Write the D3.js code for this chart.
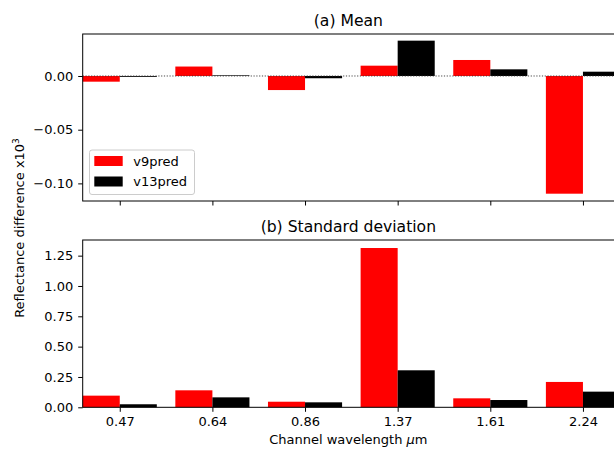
<!DOCTYPE html>
<html>
<head>
<meta charset="utf-8">
<script src="https://cdn.jsdelivr.net/npm/d3@7"></script>
<style>
  html, body { margin: 0; padding: 0; background: #fff; }
  svg { display: block; font-family: "DejaVu Sans", sans-serif; }
</style>
</head>
<body>
<svg id="chart" width="614" height="450"></svg>
<script>
// ---- data ----
const channels = ["0.47", "0.64", "0.86", "1.37", "1.61", "2.24"];
const seriesNames = ["v9pred", "v13pred"];
const seriesColors = ["#ff0000", "#000000"];
const meanV9 = [-0.0053, 0.0088, -0.0131, 0.0096, 0.0149, -0.1096];
const meanV13 = [-0.0008, 0.0006, -0.0021, 0.0329, 0.0062, 0.0040];
const stdV9 = [0.096, 0.140, 0.046, 1.313, 0.074, 0.209];
const stdV13 = [0.025, 0.082, 0.041, 0.305, 0.060, 0.129];
const meanTicks = [-0.10, -0.05, 0.00];
const stdTicks = [0.00, 0.25, 0.50, 0.75, 1.00, 1.25];

const svg = d3.select("#chart");
const fmt = v => d3.format(".2f")(v).replace("-", "\u2212");

const left = 82.7, right = 620;
const x = d3.scaleLinear().domain([-0.4, channels.length - 0.6]).range([left, right]);
const barW = 0.4;

function panel(opts) {
  const { top, bottom, domain, ticks, s1, s2, title, showXLabels, zeroLine } = opts;
  const y = d3.scaleLinear().domain(domain).range([bottom, top]);
  const g = svg.append("g");

  const rows = channels.map((c, i) => ({ i, a: s1[i], b: s2[i] }));
  [s1, s2].forEach((s, k) => {
    g.selectAll(null).data(s).enter().append("rect")
      .attr("x", (d, i) => x(i - barW + k * barW))
      .attr("width", x(barW) - x(0))
      .attr("y", d => y(Math.max(0, d)))
      .attr("height", d => Math.abs(y(d) - y(0)))
      .attr("fill", seriesColors[k]);
  });

  if (zeroLine) {
    g.append("line")
      .attr("x1", left).attr("x2", right)
      .attr("y1", y(0)).attr("y2", y(0))
      .attr("stroke", "#333").attr("stroke-width", 0.9)
      .attr("stroke-dasharray", "1.2,1.6");
  }

  // y axis
  const ya = g.append("g").attr("transform", `translate(${left},0)`)
    .call(d3.axisLeft(y).tickValues(ticks).tickFormat(fmt).tickSize(4.5).tickPadding(5));
  ya.select(".domain").remove();
  ya.selectAll("text").attr("font-size", 13).attr("font-family", "DejaVu Sans").attr("fill", "#000");
  ya.selectAll("line").attr("stroke", "#000");

  // x axis
  const xa = g.append("g").attr("transform", `translate(0,${bottom})`)
    .call(d3.axisBottom(x).tickValues(d3.range(channels.length))
      .tickFormat(i => showXLabels ? channels[i] : "").tickSize(4.5).tickPadding(5));
  xa.select(".domain").remove();
  xa.selectAll("text").attr("font-size", 13).attr("font-family", "DejaVu Sans").attr("fill", "#000");
  xa.selectAll("line").attr("stroke", "#000");

  // frame
  g.append("rect")
    .attr("x", left).attr("y", top)
    .attr("width", right - left).attr("height", bottom - top)
    .attr("fill", "none").attr("stroke", "#000").attr("stroke-width", 1);

  g.append("text")
    .attr("x", (left + right) / 2 - 3).attr("y", top - 8)
    .attr("text-anchor", "middle").attr("font-size", 15.6)
    .text(title);
  return y;
}

panel({ top: 34, bottom: 201, domain: [-0.1164, 0.0391], ticks: meanTicks,
        s1: meanV9, s2: meanV13, title: "(a) Mean", showXLabels: false, zeroLine: true });
panel({ top: 240, bottom: 407.3, domain: [0, 1.379], ticks: stdTicks,
        s1: stdV9, s2: stdV13, title: "(b) Standard deviation", showXLabels: true, zeroLine: false });

// legend
const lg = svg.append("g");
lg.append("rect").attr("x", 89.5).attr("y", 150).attr("width", 105).attr("height", 44.5)
  .attr("rx", 2.5).attr("fill", "#fff").attr("fill-opacity", 0.8)
  .attr("stroke", "#ccc").attr("stroke-width", 1);
seriesNames.forEach((n, k) => {
  lg.append("rect").attr("x", 94.3).attr("y", 156 + k * 20.5).attr("width", 28.4).attr("height", 10)
    .attr("fill", seriesColors[k]);
  lg.append("text").attr("x", 133.3).attr("y", 165.7 + k * 20.5).attr("font-size", 13).text(n);
});

// x label
const xl = svg.append("text").attr("x", (left + right) / 2 - 3).attr("y", 444)
  .attr("text-anchor", "middle").attr("font-size", 13);
xl.append("tspan").text("Channel wavelength ");
xl.append("tspan").attr("font-style", "italic").text("\u03bc");
xl.append("tspan").text("m");

// y label
const yl = svg.append("text").attr("transform", "translate(23.5,228) rotate(-90)")
  .attr("text-anchor", "middle").attr("font-size", 13);
yl.append("tspan").text("Reflectance difference x10");
yl.append("tspan").attr("font-size", 9).attr("dy", -5).text("3");
</script>
</body>
</html>
